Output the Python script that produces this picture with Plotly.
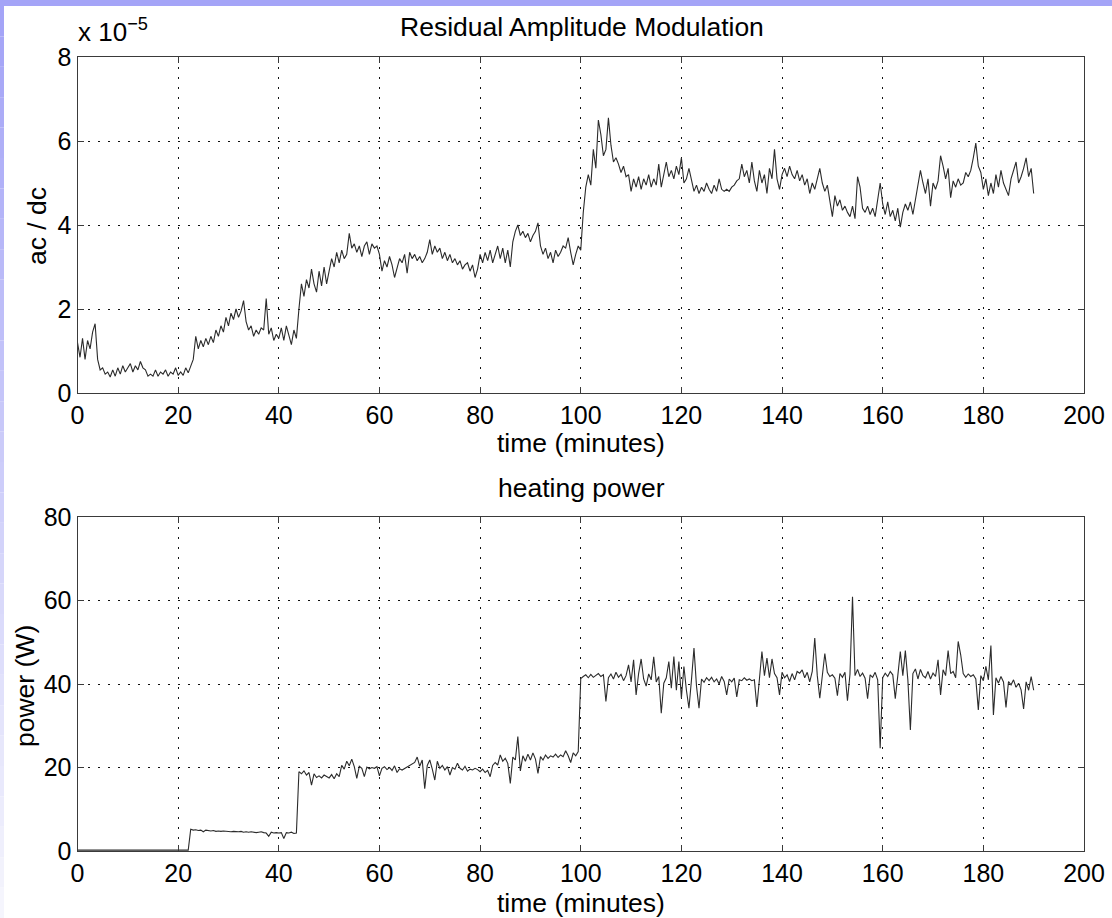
import plotly.graph_objects as go

# ---------------- data (0.5-minute steps, 0 .. 190 min) ----------------
time_min = [i * 0.5 for i in range(381)]

# residual amplitude modulation, in units of 1e-5
ram_e5 = [
    1.2, 0.85, 1.3, 0.8, 1.25, 1.05, 1.45, 1.65, 0.8, 0.55, 0.6, 0.45, 0.5, 0.38, 0.55, 0.4, 0.6, 0.45, 0.65, 0.5,
    0.6, 0.7, 0.5, 0.65, 0.55, 0.75, 0.6, 0.55, 0.4, 0.45, 0.4, 0.55, 0.4, 0.5, 0.45, 0.55, 0.4, 0.5, 0.45, 0.6,
    0.42, 0.5, 0.42, 0.6, 0.48, 0.65, 0.8, 1.35, 1.05, 1.25, 1.1, 1.3, 1.15, 1.35, 1.2, 1.5, 1.35, 1.6, 1.45, 1.8,
    1.6, 1.9, 1.75, 2.0, 1.8, 1.95, 2.2, 1.7, 1.5, 1.6, 1.35, 1.5, 1.4, 1.55, 1.5, 2.25, 1.4, 1.55, 1.25, 1.4,
    1.3, 1.55, 1.25, 1.6, 1.4, 1.15, 1.5, 1.3, 2.0, 2.6, 2.3, 2.7, 2.5, 2.95, 2.6, 2.4, 2.9, 2.55, 3.0, 2.6,
    2.9, 3.2, 3.0, 3.35, 3.1, 3.4, 3.2, 3.3, 3.8, 3.45, 3.55, 3.35, 3.5, 3.25, 3.5, 3.6, 3.3, 3.55, 3.45, 3.5,
    3.3, 2.9, 3.15, 3.0, 3.25, 3.05, 2.75, 3.0, 3.2, 3.1, 3.3, 2.85, 3.35, 3.2, 3.3, 3.15, 3.25, 3.1, 3.2, 3.35,
    3.65, 3.3, 3.5, 3.35, 3.45, 3.2, 3.35, 3.15, 3.3, 3.1, 3.2, 3.05, 3.15, 2.95, 3.05, 3.1, 2.9, 3.05, 2.75, 2.95,
    3.3, 3.1, 3.35, 3.15, 3.4, 3.1, 3.3, 3.5, 3.2, 3.45, 3.1, 3.4, 3.0, 3.6, 3.85, 4.0, 3.75, 3.85, 3.7, 3.8,
    3.6, 3.75, 3.85, 4.05, 3.5, 3.3, 3.45, 3.2, 3.35, 3.1, 3.4, 3.25, 3.35, 3.5, 3.45, 3.7, 3.35, 3.05, 3.3, 3.5,
    3.4, 4.3, 4.9, 5.2, 4.95, 5.8, 5.35, 6.5, 6.15, 5.65, 5.8, 6.55, 5.9, 5.5, 5.6, 5.45, 5.25, 5.4, 5.15, 5.2,
    4.8, 5.1, 4.9, 5.15, 4.85, 5.1, 4.95, 5.2, 4.9, 5.1, 4.95, 5.45, 4.9, 5.2, 5.5, 5.15, 5.3, 5.1, 5.4, 5.2,
    5.6, 5.0, 5.1, 5.35, 5.05, 4.8, 4.95, 4.75, 4.9, 4.8, 5.0, 4.85, 4.75, 4.95, 4.8, 5.1, 4.85, 4.8, 4.85, 4.8,
    4.9, 4.95, 5.05, 5.1, 5.45, 5.15, 5.3, 5.0, 5.5, 5.05, 4.8, 5.3, 5.0, 5.2, 4.75, 5.35, 5.1, 5.8, 5.1, 4.85,
    5.2, 5.35, 5.15, 5.4, 5.2, 5.1, 5.3, 5.05, 5.2, 4.95, 5.1, 4.75, 5.0, 4.85, 5.1, 5.35, 5.0, 4.8, 4.95, 4.6,
    4.2, 4.7, 4.45, 4.6, 4.35, 4.45, 4.3, 4.2, 4.45, 4.15, 5.15, 4.9, 4.4, 4.3, 4.45, 4.25, 4.4, 4.2, 4.6, 5.0,
    4.5, 4.25, 4.55, 4.2, 4.35, 4.1, 4.4, 3.95, 4.3, 4.5, 4.35, 4.55, 4.25, 4.6, 4.9, 5.3, 5.0, 4.75, 5.1, 4.45,
    5.0, 4.85, 5.05, 5.65, 5.4, 5.1, 5.35, 4.65, 5.05, 4.9, 5.1, 4.95, 5.0, 5.25, 5.15, 5.3, 5.6, 5.95, 5.4, 5.25,
    4.85, 5.1, 4.7, 5.0, 4.75, 5.2, 4.9, 5.3, 5.0, 4.85, 4.7, 5.1, 5.3, 5.5, 5.0, 5.15, 5.35, 5.6, 5.15, 5.35,
    4.75,
]

# heating power in watts
power_w = [
    0.2, 0.2, 0.3, 0.2, 0.2, 0.3, 0.2, 0.2, 0.2, 0.3, 0.2, 0.2, 0.2, 0.3, 0.2, 0.2, 0.2, 0.2, 0.3, 0.2,
    0.2, 0.2, 0.3, 0.2, 0.2, 0.2, 0.3, 0.2, 0.2, 0.2, 0.2, 0.3, 0.2, 0.2, 0.2, 0.3, 0.2, 0.2, 0.2, 0.2,
    0.2, 0.2, 0.2, 0.2, 0.2, 5.2, 5.0, 5.1, 4.9, 5.0, 4.6, 5.0, 4.9, 4.8, 4.9, 4.7, 4.8, 4.7, 4.8, 4.7,
    4.7, 4.6, 4.7, 4.6, 4.6, 4.7, 4.5, 4.6, 4.5, 4.6, 4.5, 4.4, 4.5, 4.6, 4.4, 4.3, 3.5, 4.5, 4.3, 4.4,
    4.3, 4.4, 3.0, 4.4, 4.3, 4.5, 4.2, 4.3, 19.0, 18.5, 19.2, 18.2, 18.8, 15.8, 18.5, 17.6, 18.0, 17.5, 18.2, 17.8,
    17.5, 18.3, 17.3, 18.5, 17.8, 20.5, 19.6, 21.5, 20.4, 22.0, 20.2, 17.4, 20.3, 19.8, 17.8, 20.1, 19.7, 20.0, 19.8, 20.2,
    18.0, 19.8, 20.2, 19.5, 20.0, 19.3, 20.4, 18.8, 19.7, 19.4, 19.8, 20.0, 20.5, 20.9, 21.2, 22.5, 20.3, 21.8, 14.9, 20.5,
    21.8, 19.6, 17.0, 21.5, 19.8, 20.5, 19.4, 20.2, 18.2, 20.0, 19.6, 21.0, 19.8, 19.4, 20.3, 19.1, 19.6, 19.4, 19.8, 19.5,
    19.0, 19.6, 18.8, 19.3, 17.8, 20.5, 21.2, 20.6, 23.0, 21.5, 22.2, 21.0, 16.2, 22.5, 21.8, 27.4, 19.2, 22.8, 21.5, 23.2,
    21.8, 23.5, 22.0, 18.6, 22.6, 21.8, 23.0, 22.2, 22.8, 22.5, 23.2, 22.4, 23.0, 22.6, 24.0, 22.8, 21.2, 23.5, 22.8, 23.8,
    41.3, 41.8, 42.2, 41.5, 42.3, 41.6, 42.0, 42.5, 41.8, 42.2, 35.8, 41.5, 42.4, 41.2, 42.8, 41.6, 42.3, 40.8, 42.0, 44.6,
    40.5, 45.8, 37.4, 42.5, 46.0, 41.2, 39.5, 42.4, 41.0, 46.5, 40.5, 41.8, 33.0, 40.2, 41.5, 45.4, 39.0, 46.6, 38.5, 45.4,
    36.6, 44.2, 38.5, 34.2, 41.0, 48.6, 39.5, 34.2, 41.2, 40.4, 41.5, 40.8, 41.6, 40.5, 41.2, 40.0, 41.8, 40.6, 37.4, 41.2,
    40.5, 41.4, 36.9, 41.0, 40.8, 41.5, 40.9, 41.2, 40.8, 41.0, 34.5, 41.5, 47.8, 42.0, 46.2, 41.5, 46.0, 42.5, 41.5, 37.4,
    42.8, 41.5, 42.2, 40.6, 42.5, 41.0, 43.0, 42.6, 43.4, 41.5, 42.8, 40.5, 43.0, 51.0, 42.0, 36.6, 42.5, 47.3, 42.8, 41.8,
    42.2, 41.4, 37.2, 42.5, 41.6, 42.8, 36.0, 42.4, 60.9, 42.0, 43.5, 41.8, 42.6, 41.4, 36.5, 42.2, 41.6, 42.8, 41.0, 24.6,
    41.5, 42.6, 41.8, 43.0, 42.2, 36.5, 42.0, 47.8, 42.0, 48.0, 41.0, 29.0, 42.5, 43.6, 41.2, 43.5, 42.0, 41.5, 43.0, 41.2,
    42.6, 41.8, 45.8, 37.4, 43.4, 42.0, 48.0, 42.5, 43.0, 41.5, 50.2, 47.0, 42.5, 41.6, 42.4, 41.8, 42.2, 41.2, 33.8, 42.0,
    40.8, 44.2, 41.0, 49.2, 32.6, 41.5, 40.2, 41.8, 40.5, 34.4, 40.6, 39.8, 41.0, 39.2, 40.2, 38.6, 34.0, 40.5, 38.5, 41.8,
    38.5,
]

x_ticks = [0, 20, 40, 60, 80, 100, 120, 140, 160, 180, 200]
ram_ticks = [0, 2, 4, 6, 8]
power_ticks = [0, 20, 40, 60, 80]

# ---------------- layout helpers ----------------
W, H = 1112, 918
def fx(px):
    return px / W
def fy(py):
    return 1 - py / H

FONT = "Liberation Sans, Arial, sans-serif"
AX_COL = "#3a3a3a"
LINE_COL = "#2b2b2b"

fig = go.Figure()
fig.add_trace(go.Scatter(x=time_min, y=ram_e5, mode="lines",
                         line=dict(color=LINE_COL, width=1.1), xaxis="x", yaxis="y",
                         showlegend=False))
fig.add_trace(go.Scatter(x=time_min, y=power_w, mode="lines",
                         line=dict(color=LINE_COL, width=1.1), xaxis="x2", yaxis="y2",
                         showlegend=False))

common_axis = dict(
    showline=True, linecolor=AX_COL, linewidth=1, mirror="ticks",
    ticks="inside", ticklen=6, tickcolor=AX_COL, tickwidth=1,
    showgrid=True, gridcolor="#111111", gridwidth=1, griddash="2px,8px",
    zeroline=False, automargin=False,
    tickfont=dict(family=FONT, size=25, color="black"),
)

x_dom = [fx(77.5), fx(1084)]
fig.update_layout(
    width=W, height=H,
    margin=dict(l=0, r=0, t=0, b=0),
    paper_bgcolor="white", plot_bgcolor="white",
    xaxis=dict(domain=x_dom, range=[0, 200], tickmode="array", tickvals=x_ticks,
               anchor="y", **common_axis),
    yaxis=dict(domain=[fy(393), fy(57)], range=[0, 8], tickmode="array", tickvals=ram_ticks,
               anchor="x", **common_axis),
    xaxis2=dict(domain=x_dom, range=[0, 200], tickmode="array", tickvals=x_ticks,
                anchor="y2", **common_axis),
    yaxis2=dict(domain=[fy(851), fy(517)], range=[0, 80], tickmode="array", tickvals=power_ticks,
                anchor="x2", **common_axis),
)

def label(text, x, y, size=26.5, angle=0, xanchor="center"):
    fig.add_annotation(text=text, x=fx(x), y=fy(y), xref="paper", yref="paper",
                       showarrow=False, textangle=angle, xanchor=xanchor, yanchor="middle",
                       font=dict(family=FONT, size=size, color="black"))

label("Residual Amplitude Modulation", 582, 27)
label("x 10<sup>\u22125</sup>", 76, 31, size=26, xanchor="left")
label("time (minutes)", 581, 443)
label("ac / dc", 37, 226, angle=-90)
label("heating power", 581, 488)
label("power (W)", 25, 686, angle=-90)
label("time (minutes)", 581, 903)

# slide background decorations: top band and fading left strip
shapes = [dict(type="rect", xref="paper", yref="paper", x0=0, x1=1, y0=fy(6), y1=1,
               fillcolor="#a4a4f7", line=dict(width=0), layer="below")]
n = 30
for i in range(n):
    t = i / (n - 1)
    r = int(164 + (245 - 164) * t)
    g = int(164 + (245 - 164) * t)
    b = int(247 + (253 - 247) * t)
    y0 = 6 + (H - 6) * i / n
    y1 = 6 + (H - 6) * (i + 1) / n
    shapes.append(dict(type="rect", xref="paper", yref="paper", x0=0, x1=fx(4),
                       y0=fy(y1), y1=fy(y0), fillcolor=f"rgb({r},{g},{b})",
                       line=dict(width=0), layer="below"))
fig.update_layout(shapes=shapes)

fig.write_html("out.html")
